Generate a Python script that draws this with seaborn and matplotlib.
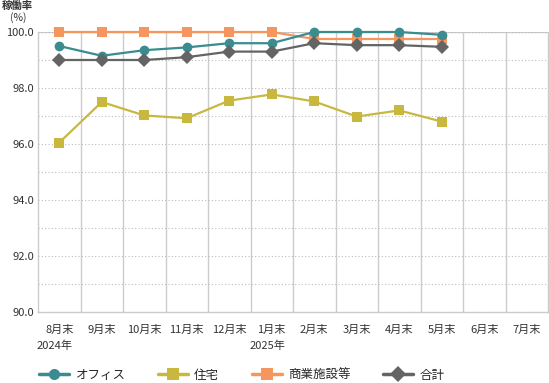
import pandas as pd
import numpy as np
import matplotlib
matplotlib.use("Agg")
import matplotlib.pyplot as plt
import seaborn as sns
from matplotlib.ticker import MultipleLocator, FixedLocator

months = ["8月末", "9月末", "10月末", "11月末", "12月末", "1月末",
          "2月末", "3月末", "4月末", "5月末", "6月末", "7月末"]
years = {0: "2024年", 5: "2025年"}

office = [99.5, 99.15, 99.35, 99.45, 99.6, 99.6, 100.0, 100.0, 100.0, 99.9]
residential = [96.05, 97.5, 97.02, 96.92, 97.55, 97.77, 97.52, 96.98, 97.2, 96.8]
commercial = [100.0, 100.0, 100.0, 100.0, 100.0, 100.0, 99.75, 99.75, 99.75, 99.75]
total = [99.0, 99.0, 99.0, 99.1, 99.3, 99.3, 99.6, 99.53, 99.53, 99.47]

series = ["オフィス", "住宅", "商業施設等", "合計"]
colors = ["#3a8c90", "#c9b83e", "#f5965f", "#646464"]
markers = ["o", "s", "s", "D"]

rows = []
for name, vals in zip(series, [office, residential, commercial, total]):
    for i, v in enumerate(vals):
        rows.append({"month": i, "rate": v, "series": name})
df = pd.DataFrame(rows)

sns.set_style("white")
plt.rcParams["font.family"] = ["Noto Sans CJK JP", "DejaVu Sans"]

fig = plt.figure(figsize=(5.49, 3.83), dpi=100)
ax = fig.add_axes([38 / 549, 1 - 312 / 383, 510 / 549, 280 / 383])
ax.set_axisbelow(True)

draw_order = ["商業施設等", "住宅", "オフィス", "合計"]
for name in draw_order:
    idx = series.index(name)
    sns.lineplot(data=df[df["series"] == name], x="month", y="rate", ax=ax,
                 color=colors[idx], marker=markers[idx], markersize=7,
                 markeredgewidth=0, linewidth=1.6, label=name, legend=False,
                 clip_on=False, zorder=3)

ax.set_xlim(-0.5, 11.5)
ax.set_ylim(90, 100)
ax.yaxis.set_major_locator(MultipleLocator(2))
ax.yaxis.set_minor_locator(MultipleLocator(1))
ax.set_yticks(np.arange(90, 100.1, 2))
ax.set_yticklabels([f"{v:.1f}" for v in np.arange(90, 100.1, 2)])
ax.set_xticks(range(12))
ax.set_xticklabels(months)
ax.xaxis.set_minor_locator(FixedLocator(np.arange(0.5, 11.5, 1)))
ax.tick_params(axis="both", which="both", length=0, labelsize=8, colors="#333333")
ax.tick_params(axis="x", pad=9)
ax.tick_params(axis="y", pad=3)

ax.grid(axis="y", which="both", color="#bbbbbb", linestyle=(0, (1, 2)), linewidth=0.8)
ax.grid(axis="x", which="minor", color="#cccccc", linestyle="-", linewidth=1)
ax.grid(axis="x", which="major", visible=False)
ax.axhline(100, color="#cccccc", linewidth=1, zorder=0)
for side in ["left", "bottom", "right"]:
    ax.spines[side].set_color("#cccccc")
    ax.spines[side].set_linewidth(1)
ax.spines["top"].set_visible(False)
ax.set_xlabel("")
ax.set_ylabel("")

for i, yr in years.items():
    ax.text(i - 0.1, -0.12, yr, transform=ax.get_xaxis_transform(),
            ha="center", va="center", fontsize=8, color="#333333")

fig.text(2 / 549, 1 - 6 / 383, "稼働率", fontsize=7.5, ha="left", va="center",
         color="#333333", fontweight="bold")
fig.text(10 / 549, 1 - 18 / 383, "(%)", fontsize=7.5, ha="left", va="center", color="#333333")

handles = []
for name, c, m in zip(series, colors, markers):
    handles.append(plt.Line2D([], [], color=c, marker=m, markersize=8,
                              markeredgewidth=0, linewidth=2.5))
fig.legend(handles, series, loc="center left", bbox_to_anchor=(28 / 549, 1 - 375 / 383),
           ncol=4, frameon=False, handlelength=2.4, columnspacing=2.6,
           handletextpad=0.5, fontsize=9)

fig.savefig("out.png", dpi=100)
